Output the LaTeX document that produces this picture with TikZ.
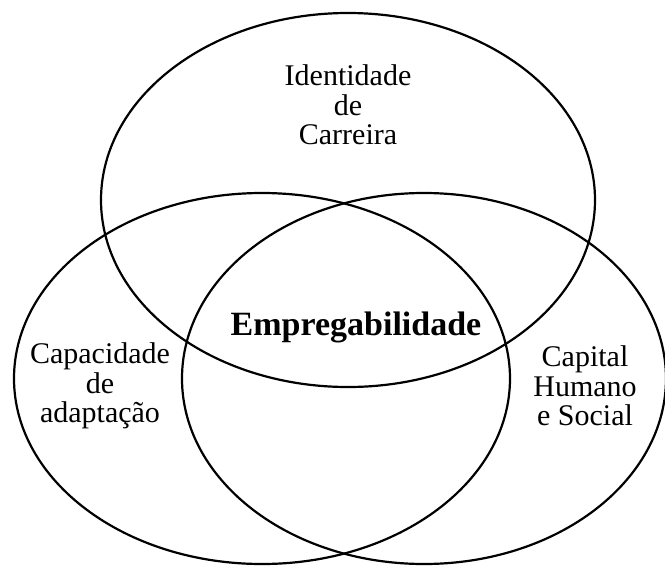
\documentclass[tikz,border=0pt]{standalone}
\usepackage{fontspec}
\setmainfont{Liberation Serif}
\begin{document}
\begin{tikzpicture}[x=1pt,y=-1pt,
  ring/.style={line width=2.2pt},
  label/.style={align=center,inner sep=0pt,font=\fontsize{30}{29.5}\selectfont},
  core/.style={inner sep=0pt,font=\fontsize{34}{34}\selectfont\bfseries}]
\useasboundingbox (0,0) rectangle (665,566);
% three overlapping ellipses
\draw[ring] (348,200) ellipse [x radius=247pt, y radius=187pt];
\draw[ring] (262,378.5) ellipse [x radius=248pt, y radius=185.5pt];
\draw[ring] (424,378.5) ellipse [x radius=242pt, y radius=185.5pt];
% labels
\node[label] (carreira) at (348,105) {Identidade\\de\\Carreira};
\node[label] (adapt) at (100,386) {Capacidade\\de\\adaptação};
\node[label] (capital) at (585,386) {Capital\\Humano\\e Social};
\node[core] (emp) at (356,327) {Empregabilidade};
\end{tikzpicture}
\end{document}
